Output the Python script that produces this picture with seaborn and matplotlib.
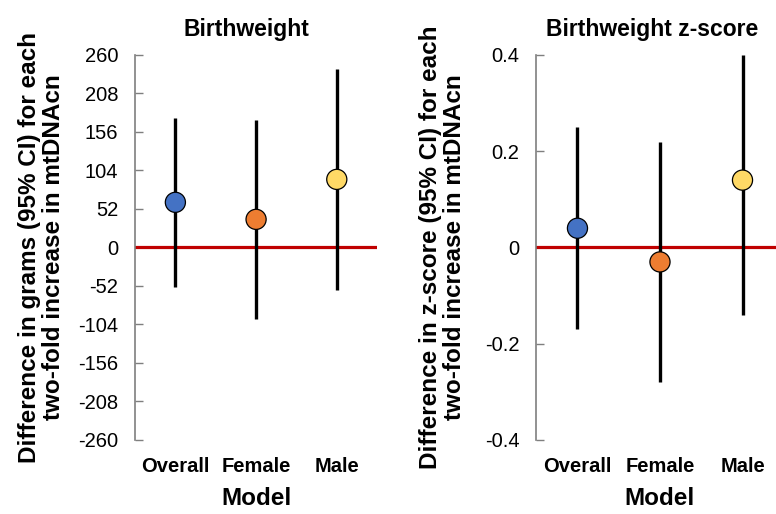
import pandas as pd
import matplotlib.pyplot as plt
import seaborn as sns

# ===== DATA =====
models = ["Overall", "Female", "Male"]
colors = ["#4472C4", "#ED7D31", "#FFD966"]

# Birthweight (grams)
bw_est = [61, 38, 92]
bw_low = [-54, -97, -57]
bw_high = [175, 172, 241]

# Birthweight z-score
z_est = [0.04, -0.03, 0.14]
z_low = [-0.17, -0.28, -0.14]
z_high = [0.25, 0.22, 0.40]

bw_ticks = [-260, -208, -156, -104, -52, 0, 52, 104, 156, 208, 260]
z_ticks = [-0.4, -0.2, 0, 0.2, 0.4]
z_ticklabels = ["-0.4", "-0.2", "0", "0.2", "0.4"]

bw_df = pd.DataFrame({"Model": models, "est": bw_est, "low": bw_low, "high": bw_high})
z_df = pd.DataFrame({"Model": models, "est": z_est, "low": z_low, "high": z_high})

sns.set_style("white")
plt.rcParams["font.family"] = ["Liberation Sans", "DejaVu Sans"]
plt.rcParams["text.color"] = "black"
plt.rcParams["axes.labelcolor"] = "black"
plt.rcParams["xtick.color"] = "black"
plt.rcParams["ytick.color"] = "black"

fig = plt.figure(figsize=(7.76, 5.14), dpi=100)
ax1 = fig.add_axes([0.174, 0.144, 0.312, 0.749])
ax2 = fig.add_axes([0.691, 0.144, 0.319, 0.749])

panels = [
    (ax1, bw_df, "Birthweight", "Difference in grams (95% CI) for each\ntwo-fold increase in mtDNAcn",
     bw_ticks, [str(t) for t in bw_ticks], (-260, 260), -0.29, 0.46),
    (ax2, z_df, "Birthweight z-score", "Difference in z-score (95% CI) for each\ntwo-fold increase in mtDNAcn",
     z_ticks, z_ticklabels, (-0.4, 0.4), -0.283, 0.47),
]

for ax, df, title, ylab, ticks, ticklabels, ylim, lab_x, title_x in panels:
    ax.axhline(0, color="#C00000", lw=2.3, zorder=1)
    ax.vlines(range(len(df)), df["low"], df["high"], color="black", lw=2.4, zorder=2)
    sns.scatterplot(data=df, x="Model", y="est", hue="Model", palette=colors,
                    s=210, edgecolor="black", linewidth=0.9, legend=False, ax=ax, zorder=3)
    ax.set_xlim(-0.5, 2.5)
    ax.set_ylim(*ylim)
    ax.set_yticks(ticks)
    ax.set_yticklabels(ticklabels)
    ax.tick_params(axis="y", direction="in", length=6, width=1, color="#7f7f7f",
                   labelcolor="black", labelsize=14.5, pad=12, left=True)
    ax.tick_params(axis="x", length=0, labelcolor="black", labelsize=14.5, pad=12)
    for lbl in ax.get_xticklabels():
        lbl.set_fontweight("bold")
    for s in ["top", "right", "bottom"]:
        ax.spines[s].set_visible(False)
    ax.spines["left"].set_color("#7f7f7f")
    ax.spines["left"].set_linewidth(1.2)
    ax.set_xlabel("Model", fontsize=17.5, fontweight="bold", labelpad=8)
    ax.set_ylabel(ylab, fontsize=17.5, fontweight="bold", linespacing=1.05)
    ax.yaxis.set_label_coords(lab_x, 0.5)
    ax.set_title(title, fontsize=16.5, fontweight="bold", x=title_x, pad=14)

plt.savefig("out.png", dpi=100)
plt.close()
